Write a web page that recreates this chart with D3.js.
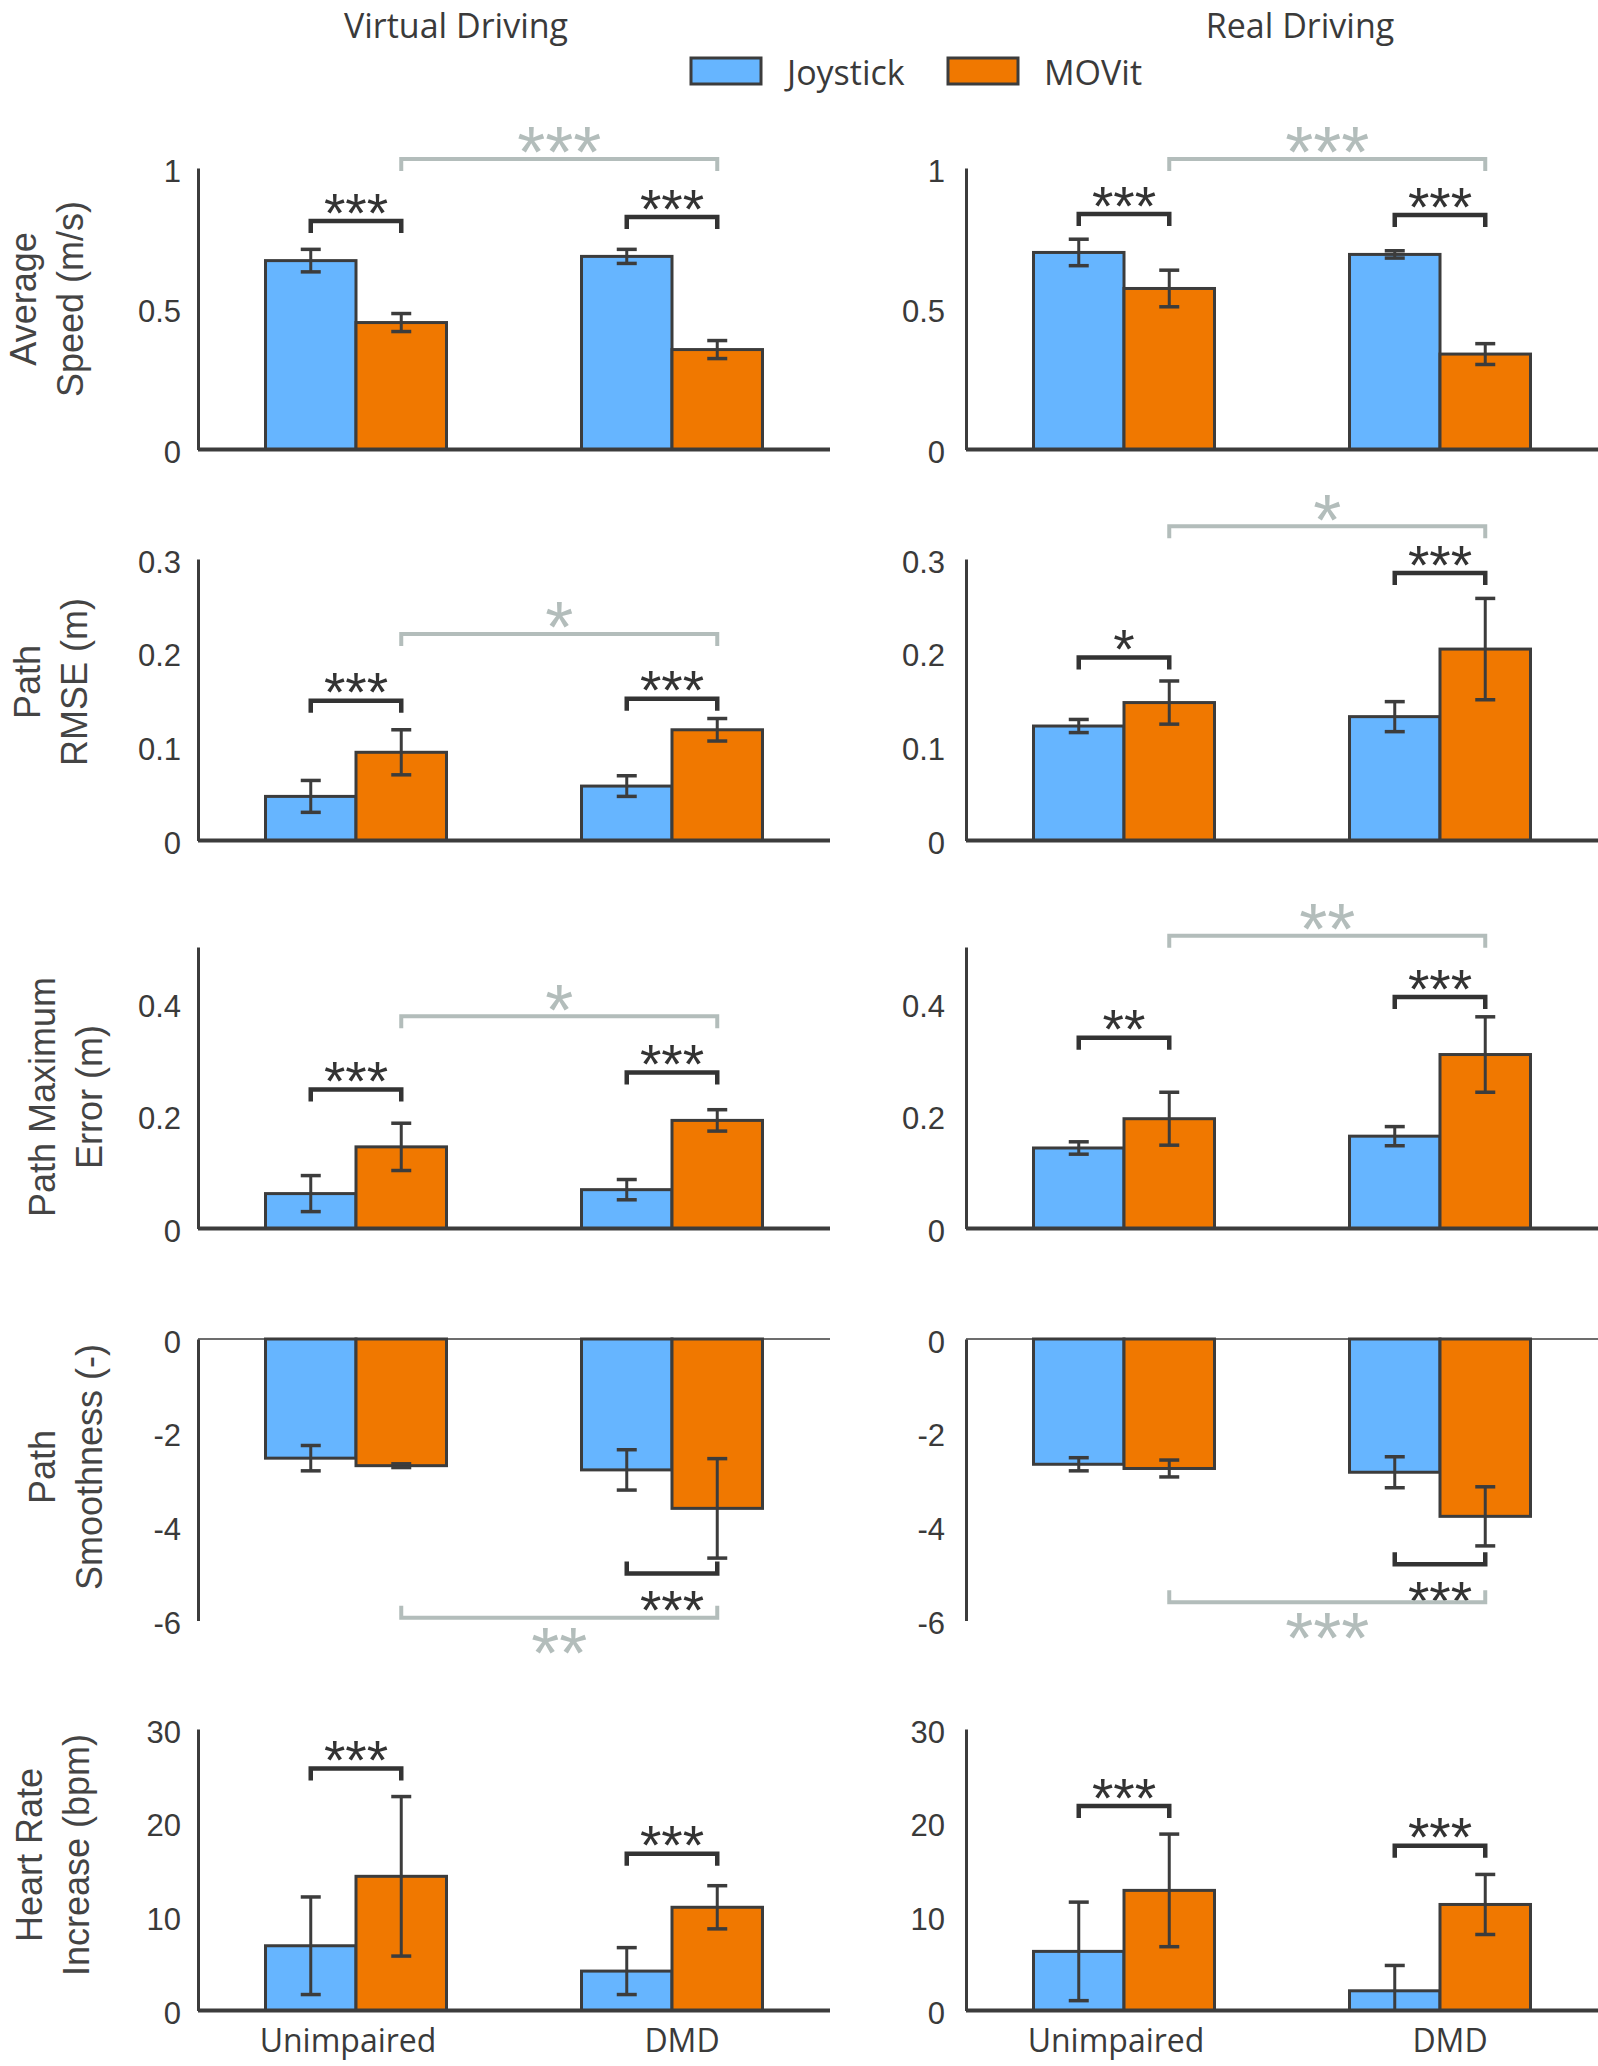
<!DOCTYPE html>
<meta charset="utf-8">
<style>
  body { margin: 0; background: #ffffff; }
  text { fill: #3a3a3a; }
</style>
<body>
<svg id="chart" width="1598" height="2066"></svg>
<script src="https://d3js.org/d3.v7.min.js"></script>
<script>
// ---- data ----
const groups = ["Unimpaired", "DMD"];
const series = ["Joystick", "MOVit"];
const conditions = ["Virtual Driving", "Real Driving"];
const metricLabels = [["Average", "Speed (m/s)"], ["Path", "RMSE (m)"], ["Path Maximum", "Error (m)"], ["Path", "Smoothness (-)"], ["Heart Rate", "Increase (bpm)"]];
const yDomains = [[0, 1], [0, 0.3], [0, 0.5], [-6, 0], [0, 30]];
const yTicks = [[0, 0.5, 1], [0, 0.1, 0.2, 0.3], [0, 0.2, 0.4], [0, -2, -4, -6], [0, 10, 20, 30]];

// means and error per metric, [Unimpaired, DMD]
const virtualJoystick    = [[0.671, 0.686], [0.047, 0.058], [0.062, 0.069], [-2.54, -2.79], [6.9, 4.2]];
const virtualJoystickErr = [[0.040, 0.025], [0.017, 0.011], [0.032, 0.018], [0.27, 0.43], [5.2, 2.5]];
const virtualMovit       = [[0.451, 0.355], [0.094, 0.118], [0.145, 0.192], [-2.70, -3.61], [14.3, 11.0]];
const virtualMovitErr    = [[0.032, 0.032], [0.024, 0.012], [0.042, 0.019], [0.04, 1.06], [8.5, 2.3]];

const realJoystick    = [[0.700, 0.693], [0.122, 0.132], [0.143, 0.164], [-2.67, -2.84], [6.3, 2.1]];
const realJoystickErr = [[0.047, 0.013], [0.007, 0.016], [0.011, 0.017], [0.14, 0.33], [5.25, 2.7]];
const realMovit       = [[0.572, 0.339], [0.147, 0.204], [0.195, 0.309], [-2.76, -3.78], [12.8, 11.3]];
const realMovitErr    = [[0.065, 0.037], [0.023, 0.054], [0.047, 0.067], [0.18, 0.63], [6.0, 3.2]];

// significance: Joystick vs MOVit inside each group, and MOVit Unimpaired vs DMD
const virtualPairStars  = [["***", "***"], ["***", "***"], ["***", "***"], [null, "***"], ["***", "***"]];
const virtualPairLevels = [[0.812, 0.826], [0.149, 0.151], [0.247, 0.277], [null, -5.0], [25.8, 16.7]];
const virtualGroupStars  = ["***", "*", "*", "**", null];
const virtualGroupLevels = [1.032, 0.220, 0.377, -5.94, null];

const realPairStars  = [["***", "***"], ["*", "***"], ["**", "***"], [null, "***"], ["***", "***"]];
const realPairLevels = [[0.837, 0.833], [0.195, 0.285], [0.339, 0.411], [null, -4.80], [21.8, 17.55]];
const realGroupStars  = ["***", "*", "**", "***", null];
const realGroupLevels = [1.032, 0.335, 0.520, -5.61, null];

// ---- layout ----
const colors = {Joystick: "#66b5ff", MOVit: "#f07800"};
const edge = "#3c3c3c";
const grey = "#b3bdbb";
const colRanges = [[198, 830], [966, 1598]];
const rowTops = [168, 559, 947, 1339, 1729];
const rowH = 281.5;
const labelY = [299, 682, 1097, 1467, 1855];
const labelX = [36, 40, 55, 55, 42];
const groupLabelShift = [-8, 10];

const svg = d3.select("#chart");

const panels = [
  {means: [virtualJoystick, virtualMovit], errs: [virtualJoystickErr, virtualMovitErr],
   pairStars: virtualPairStars, pairLevels: virtualPairLevels, groupStars: virtualGroupStars, groupLevels: virtualGroupLevels},
  {means: [realJoystick, realMovit], errs: [realJoystickErr, realMovitErr],
   pairStars: realPairStars, pairLevels: realPairLevels, groupStars: realGroupStars, groupLevels: realGroupLevels}
];

// titles
conditions.forEach((c, i) => {
  svg.append("text")
    .attr("x", [456, 1300][i]).attr("y", 38)
    .attr("text-anchor", "middle")
    .style("font-family", "'Open Sans', sans-serif").style("font-size", "34px")
    .text(c);
});

// legend
const legend = svg.append("g");
series.forEach((s, i) => {
  const lx = [691, 948][i];
  legend.append("rect").attr("x", lx).attr("y", 58).attr("width", 70).attr("height", 26)
    .attr("fill", colors[s]).attr("stroke", edge).attr("stroke-width", 3);
  legend.append("text").attr("x", lx + 96).attr("y", 85)
    .style("font-family", "'Open Sans', sans-serif").style("font-size", "34px")
    .text(s);
});

function stars(g, text, cx, cy, big) {
  const fs = big ? 72 : 55;
  g.append("text")
    .attr("x", cx).attr("y", cy + 0.575 * fs)
    .attr("text-anchor", "middle")
    .style("font-family", "'Liberation Sans', Arial, sans-serif")
    .style("font-size", fs + "px")
    .style("fill", big ? grey : "#333")
    .text(text);
}

metricLabels.forEach((lab, m) => {
  // y label
  const lg = svg.append("text")
    .attr("transform", `translate(${labelX[m]},${labelY[m]}) rotate(-90)`)
    .attr("text-anchor", "middle")
    .style("font-family", "'Liberation Sans', Arial, sans-serif").style("font-size", "36px")
    .style("fill", "#444");
  lg.append("tspan").attr("x", 0).attr("y", 0).text(lab[0]);
  lg.append("tspan").attr("x", 0).attr("y", 47).text(lab[1]);

  panels.forEach((p, c) => {
    const g = svg.append("g");
    const y = d3.scaleLinear().domain(yDomains[m]).range([rowTops[m] + rowH, rowTops[m]]);
    const x0 = d3.scaleBand().domain(groups).range(colRanges[c]);
    const x1 = d3.scaleBand().domain(series).range([0, x0.bandwidth()]).paddingOuter(0.746);
    const bw = x1.bandwidth();
    const cx = (gi, s) => x0(groups[gi]) + x1(s) + bw / 2;

    const rows = [];
    groups.forEach((gr, gi) => series.forEach((s, si) => {
      rows.push({gi, s, v: p.means[si][m][gi], e: p.errs[si][m][gi]});
    }));

    g.selectAll("rect.bar").data(rows).join("rect")
      .attr("class", "bar")
      .attr("x", d => x0(groups[d.gi]) + x1(d.s))
      .attr("width", bw)
      .attr("y", d => Math.min(y(d.v), y(0)))
      .attr("height", d => Math.abs(y(d.v) - y(0)))
      .attr("fill", d => colors[d.s])
      .attr("stroke", edge).attr("stroke-width", 3);

    // error bars
    const [dMin, dMax] = yDomains[m];
    rows.forEach(d => {
      const x = cx(d.gi, d.s);
      const hi = Math.min(d.v + d.e, dMax), lo = Math.max(d.v - d.e, dMin);
      g.append("line").attr("x1", x).attr("x2", x).attr("y1", y(hi)).attr("y2", y(lo))
        .attr("stroke", edge).attr("stroke-width", 3);
      [d.v + d.e, d.v - d.e].forEach(t => {
        if (t < dMin || t > dMax) return;
        g.append("line").attr("x1", x - 10).attr("x2", x + 10).attr("y1", y(t)).attr("y2", y(t))
          .attr("stroke", edge).attr("stroke-width", 3.5);
      });
    });

    // y axis
    const ax = g.append("g").attr("transform", `translate(${colRanges[c][0]},0)`)
      .call(d3.axisLeft(y).tickValues(yTicks[m]).tickSize(0).tickPadding(c === 0 ? 17 : 21).tickFormat(d => String(d)));
    ax.select(".domain").attr("stroke", edge).attr("stroke-width", 3);
    ax.selectAll("text")
      .attr("dy", "0.42em")
      .style("font-family", "'Liberation Sans', Arial, sans-serif").style("font-size", "31px")
      .style("fill", "#3a3a3a");

    // zero line / baseline
    const neg = dMax <= 0;
    g.append("line").attr("x1", colRanges[c][0]).attr("x2", colRanges[c][1])
      .attr("y1", y(0)).attr("y2", y(0))
      .attr("stroke", edge).attr("stroke-width", neg ? 1.5 : 4);

    // pair brackets
    groups.forEach((gr, gi) => {
      const st = p.pairStars[m][gi];
      if (!st) return;
      const lv = y(p.pairLevels[m][gi]);
      const dir = p.pairLevels[m][gi] >= 0 ? 1 : -1;
      const xa = cx(gi, "Joystick"), xb = cx(gi, "MOVit");
      g.append("path").attr("d", `M${xa},${lv + dir * 12}V${lv}H${xb}V${lv + dir * 12}`)
        .attr("fill", "none").attr("stroke", "#333").attr("stroke-width", 4.5);
      stars(g, st, (xa + xb) / 2, dir > 0 ? lv - 21 : lv + 24, false);
    });

    // group bracket (MOVit Unimpaired vs DMD)
    const gs = p.groupStars[m];
    if (gs) {
      const lv = y(p.groupLevels[m]);
      const dir = p.groupLevels[m] >= 0 ? 1 : -1;
      const xa = cx(0, "MOVit"), xb = cx(1, "MOVit");
      g.append("path").attr("d", `M${xa},${lv + dir * 12}V${lv}H${xb}V${lv + dir * 12}`)
        .attr("fill", "none").attr("stroke", grey).attr("stroke-width", 4);
      stars(g, gs, (xa + xb) / 2, dir > 0 ? lv - 23 : lv + 19, true);
    }

    // group labels on bottom row
    if (m === metricLabels.length - 1) {
      groups.forEach((gr, gi) => {
        g.append("text").attr("x", x0(gr) + x0.bandwidth() / 2 + groupLabelShift[gi]).attr("y", 2052)
          .attr("text-anchor", "middle")
          .style("font-family", "'Open Sans', sans-serif").style("font-size", "32px")
          .text(gr);
      });
    }
  });
});
</script>
</body>
